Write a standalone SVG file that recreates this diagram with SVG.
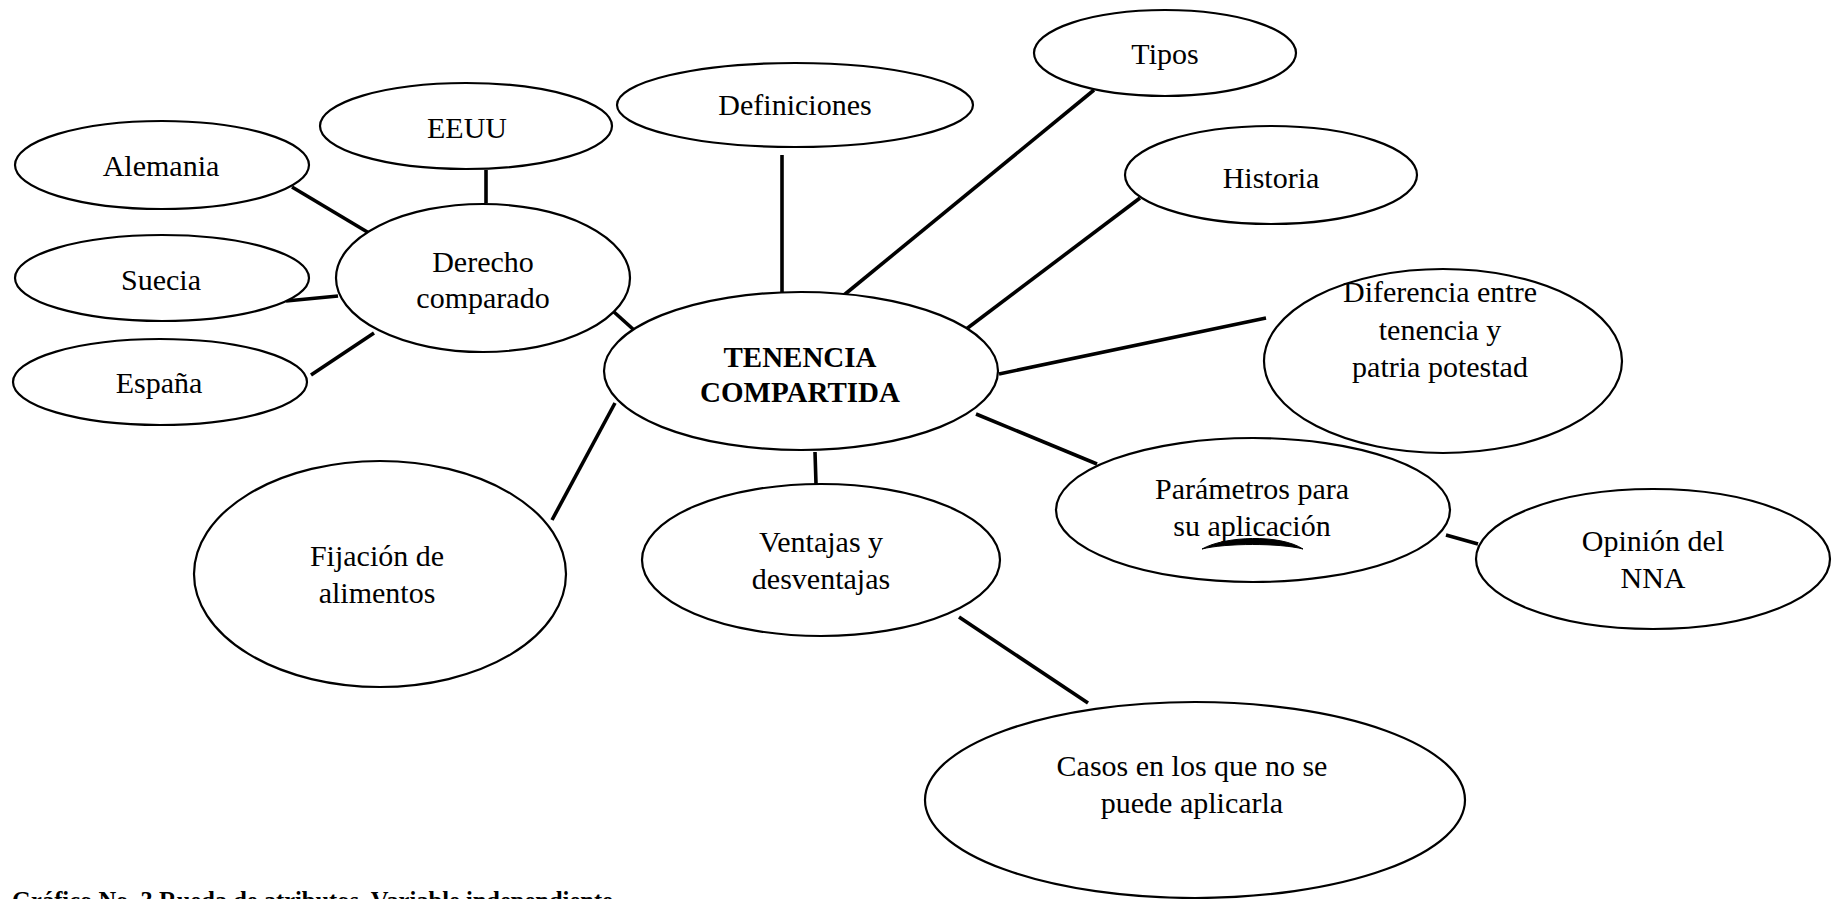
<svg xmlns="http://www.w3.org/2000/svg" width="1832" height="899" viewBox="0 0 1832 899">
<style>
.n ellipse{fill:#fff;stroke:#000;stroke-width:2.2}
.t{font-family:"Liberation Serif","Times New Roman",serif;font-size:30px;fill:#000;text-anchor:middle}
.b{font-weight:bold;font-size:29px}
.c line{stroke:#000;stroke-width:3.6;stroke-linecap:butt}
.cap{font-family:"Liberation Serif","Times New Roman",serif;font-size:24.5px;font-weight:bold;fill:#000}
</style>
<rect width="1832" height="899" fill="#fff"/>
<g class="c" id="connectors">
<line x1="292" y1="187" x2="369" y2="233"/>
<line x1="486" y1="170" x2="486" y2="203"/>
<line x1="286" y1="301" x2="338" y2="296"/>
<line x1="311" y1="375" x2="374" y2="333"/>
<line x1="614" y1="312" x2="634" y2="330"/>
<line x1="782" y1="155" x2="782" y2="292"/>
<line x1="1094" y1="90" x2="844" y2="295"/>
<line x1="1140" y1="198" x2="965" y2="330"/>
<line x1="1266" y1="318" x2="999" y2="374"/>
<line x1="976" y1="414" x2="1097" y2="464"/>
<line x1="1446" y1="535" x2="1478" y2="544"/>
<line x1="615" y1="403" x2="552" y2="520"/>
<line x1="815" y1="452" x2="816" y2="484"/>
<line x1="959" y1="617" x2="1088" y2="703"/>
</g>
<g class="n" id="tipos"><ellipse cx="1165" cy="53" rx="131" ry="43"/><text class="t" x="1165" y="64">Tipos</text></g>
<g class="n" id="definiciones"><ellipse cx="795" cy="105" rx="178" ry="42"/><text class="t" x="795" y="115">Definiciones</text></g>
<g class="n" id="eeuu"><ellipse cx="466" cy="126" rx="146" ry="43"/><text class="t" x="467" y="138">EEUU</text></g>
<g class="n" id="alemania"><ellipse cx="162" cy="165" rx="147" ry="44"/><text class="t" x="161" y="176">Alemania</text></g>
<g class="n" id="suecia"><ellipse cx="162" cy="278" rx="147" ry="43"/><text class="t" x="161" y="290">Suecia</text></g>
<g class="n" id="espana"><ellipse cx="160" cy="382" rx="147" ry="43"/><text class="t" x="159" y="393">España</text></g>
<g class="n" id="derecho"><ellipse cx="483" cy="278" rx="147" ry="74"/><text class="t" x="483" y="272">Derecho</text><text class="t" x="483" y="308">comparado</text></g>
<g class="n" id="tenencia"><ellipse cx="801" cy="371" rx="197" ry="79"/><text class="t b" x="800" y="367">TENENCIA</text><text class="t b" x="800" y="402">COMPARTIDA</text></g>
<g class="n" id="historia"><ellipse cx="1271" cy="175" rx="146" ry="49"/><text class="t" x="1271" y="188">Historia</text></g>
<g class="n" id="diferencia"><ellipse cx="1443" cy="361" rx="179" ry="92"/><text class="t" x="1440" y="302">Diferencia entre</text><text class="t" x="1440" y="340">tenencia y</text><text class="t" x="1440" y="377">patria potestad</text></g>
<g class="n" id="parametros"><ellipse cx="1253" cy="510" rx="197" ry="72"/><text class="t" x="1252" y="499">Parámetros para</text><text class="t" x="1252" y="536">su aplicación</text><path d="M1202,549 C1225,536 1280,534 1303,549 C1280,543 1225,543 1202,549 Z" fill="#000" stroke="#000" stroke-width="1"/></g>
<g class="n" id="opinion"><ellipse cx="1653" cy="559" rx="177" ry="70"/><text class="t" x="1653" y="551">Opinión del</text><text class="t" x="1653" y="588">NNA</text></g>
<g class="n" id="fijacion"><ellipse cx="380" cy="574" rx="186" ry="113"/><text class="t" x="377" y="566">Fijación de</text><text class="t" x="377" y="603">alimentos</text></g>
<g class="n" id="ventajas"><ellipse cx="821" cy="560" rx="179" ry="76"/><text class="t" x="821" y="552">Ventajas y</text><text class="t" x="821" y="589">desventajas</text></g>
<g class="n" id="casos"><ellipse cx="1195" cy="800" rx="270" ry="98"/><text class="t" x="1192" y="776">Casos en los que no se</text><text class="t" x="1192" y="813">puede aplicarla</text></g>
<text class="cap" x="12" y="909">Gráfico No. 3 Rueda de atributos. Variable independiente</text>
</svg>
